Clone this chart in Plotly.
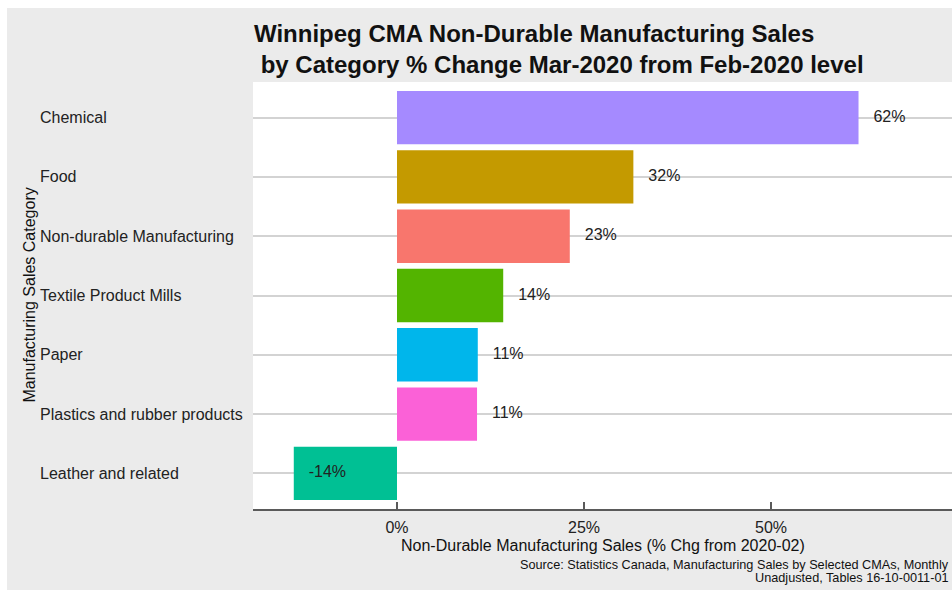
import plotly.graph_objects as go

# Category order, top to bottom
categories = [
    "Chemical",
    "Food",
    "Non-durable Manufacturing",
    "Textile Product Mills",
    "Paper",
    "Plastics and rubber products",
    "Leather and related",
]
pct_change = [61.7, 31.6, 23.1, 14.2, 10.8, 10.7, -13.8]
bar_colors = ["#A58AFF", "#C49A00", "#F8766D", "#53B400", "#00B6EB", "#FB61D7", "#00C094"]
x_ticks = [0, 25, 50]
x_tick_labels = ["0%", "25%", "50%"]

FONT = "Liberation Sans, Arial, sans-serif"
W, H = 952, 592
ML, MR, MT, MB = 253, 0, 82, 83
PW = W - ML - MR
PH = H - MT - MB


def px_x(px):
    return (px - ML) / PW


def px_y(py):
    return (H - MB - py) / PH


fig = go.Figure()

fig.add_trace(go.Bar(
    x=pct_change,
    y=categories,
    orientation="h",
    width=0.9,
    marker=dict(color=bar_colors, line=dict(width=0)),
    hoverinfo="skip",
    showlegend=False,
))

fig.add_trace(go.Scatter(
    x=[v + 2 for v in pct_change],
    y=categories,
    mode="text",
    text=[f"{round(v)}%" for v in pct_change],
    textposition="middle right",
    textfont=dict(family=FONT, size=16, color="#222222"),
    cliponaxis=False,
    hoverinfo="skip",
    showlegend=False,
))

# Category labels, left aligned
annotations = []
for c in categories:
    annotations.append(dict(
        x=px_x(38), xref="paper", y=c, yref="y",
        text=c, showarrow=False, xanchor="left", yanchor="middle",
        font=dict(family=FONT, size=16, color="#222222"),
    ))

annotations.append(dict(
    x=px_x(29), xref="paper", y=0.5, yref="paper",
    text="Manufacturing Sales Category", textangle=-90, showarrow=False,
    xanchor="center", yanchor="middle",
    font=dict(family=FONT, size=16, color="#111111"),
))
annotations.append(dict(
    x=0.5, xref="paper", y=px_y(545), yref="paper",
    text="Non-Durable Manufacturing Sales (% Chg from 2020-02)", showarrow=False,
    xanchor="center", yanchor="middle",
    font=dict(family=FONT, size=16, color="#111111"),
))
annotations.append(dict(
    x=px_x(951), xref="paper", y=px_y(565), yref="paper",
    text="Source: Statistics Canada, Manufacturing Sales by Selected CMAs, Monthly",
    showarrow=False, xanchor="right", yanchor="middle",
    font=dict(family=FONT, size=12.7, color="#111111"),
))
annotations.append(dict(
    x=px_x(951), xref="paper", y=px_y(578), yref="paper",
    text="Unadjusted, Tables 16-10-0011-01",
    showarrow=False, xanchor="right", yanchor="middle",
    font=dict(family=FONT, size=12.7, color="#111111"),
))

shapes = [
    # outer grey canvas
    dict(type="rect", xref="paper", yref="paper",
         x0=px_x(7), x1=px_x(W + 5), y0=px_y(590), y1=px_y(8),
         fillcolor="#EBEBEB", line=dict(width=0), layer="below"),
    # white panel
    dict(type="rect", xref="paper", yref="paper",
         x0=0, x1=1, y0=0, y1=1,
         fillcolor="#FFFFFF", line=dict(width=0), layer="below"),
]

fig.update_layout(
    width=W, height=H,
    margin=dict(l=ML, r=MR, t=MT, b=MB, pad=0),
    paper_bgcolor="#FFFFFF",
    plot_bgcolor="#FFFFFF",
    title=dict(
        text="Winnipeg CMA Non-Durable Manufacturing Sales<br>\u00a0by Category % Change Mar-2020 from Feb-2020 level",
        x=px_x(254), xref="paper", xanchor="left",
        y=1 - 42 / H, yref="container", yanchor="middle",
        font=dict(family=FONT, size=24, color="#111111", weight="bold"),
    ),
    xaxis=dict(
        range=[(ML - 397) / 7.48, (W - 397) / 7.48],
        tickvals=x_ticks, ticktext=x_tick_labels,
        showgrid=False, zeroline=False,
        showline=True, linecolor="#5A5A5A", linewidth=1.5,
        ticks="inside", ticklen=7, tickwidth=1.5, tickcolor="#5A5A5A",
        tickfont=dict(family=FONT, size=16, color="#222222"),
        ticklabelstandoff=3,
        fixedrange=True,
    ),
    yaxis=dict(
        categoryorder="array", categoryarray=list(reversed(categories)),
        range=[-0.6, 6.6],
        showticklabels=False, ticks="",
        showgrid=True, gridcolor="#D3D3D3", gridwidth=1.6,
        zeroline=False, showline=False,
        fixedrange=True,
    ),
    annotations=annotations,
    shapes=shapes,
    bargap=0.1,
)

fig.write_html("out.html")
